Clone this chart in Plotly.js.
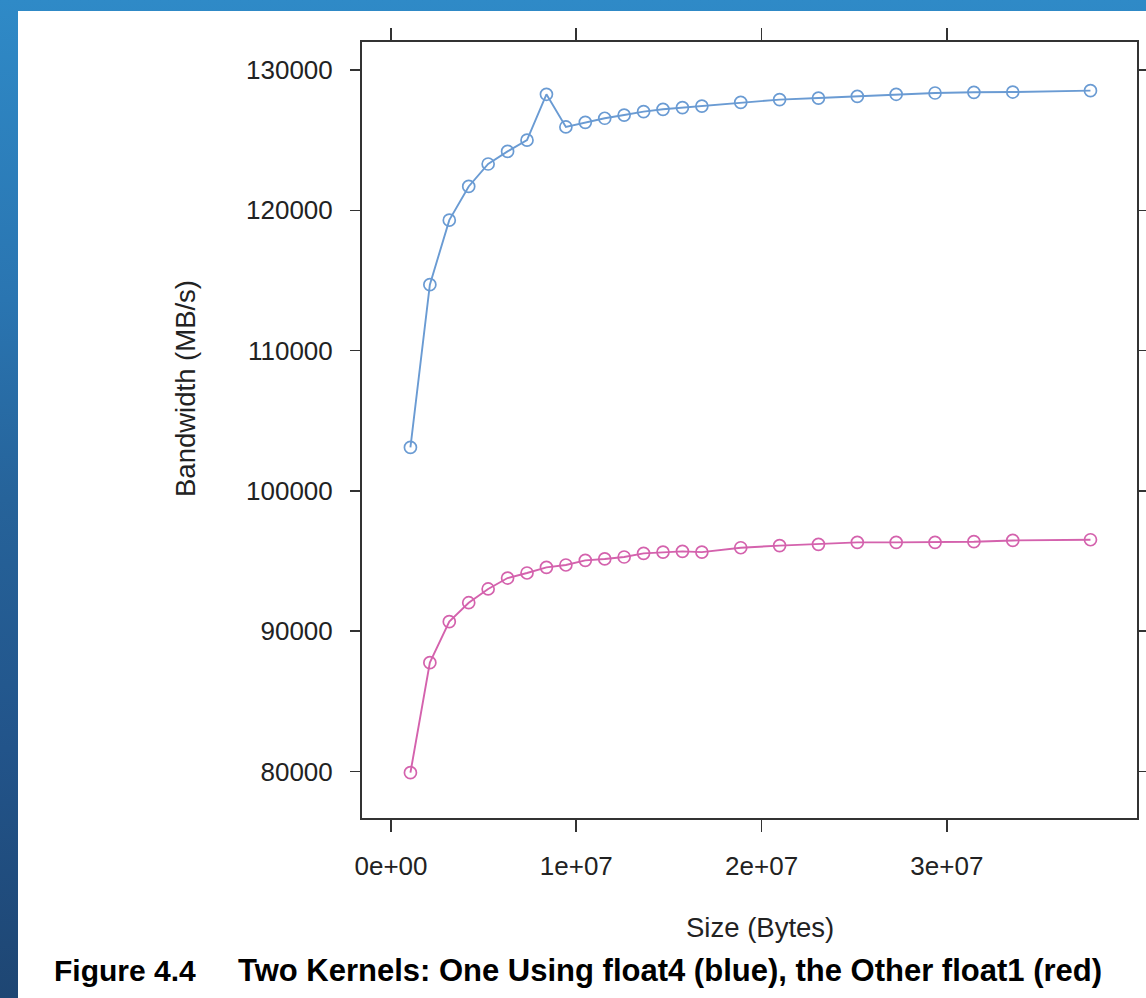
<!DOCTYPE html>
<html>
<head>
<meta charset="utf-8">
<script src="https://cdn.plot.ly/plotly-3.0.1.min.js"></script>
<style>
  html, body { margin: 0; padding: 0; width: 1146px; height: 998px; overflow: hidden; }
  body { background: linear-gradient(to bottom, #2f8ac7 0%, #2a75b1 30%, #26639a 50%, #22548a 75%, #1e4673 100%); position: relative; }
  #chart { position: absolute; left: 18px; top: 11px; width: 1128px; height: 987px; background: #ffffff; }
</style>
</head>
<body>
<div id="chart"></div>
<script>
// Sizes: multiples of 1 MiB
var sizeMultiples = [1,2,3,4,5,6,7,8,9,10,11,12,13,14,15,16,18,20,22,24,26,28,30,32,36];
var sizeBytes = sizeMultiples.map(function (k) { return k * 1048576; });

var float4Bandwidth = [103100,114700,119300,121700,123300,124200,125000,128270,125940,126270,
                       126560,126790,127030,127200,127320,127430,127690,127890,128000,128120,
                       128270,128360,128410,128430,128530];
var float1Bandwidth = [79920,87760,90680,92030,93010,93790,94150,94550,94720,95050,
                       95150,95290,95550,95640,95690,95640,95950,96100,96190,96330,
                       96330,96330,96380,96470,96520];

var yTickVals = [80000, 90000, 100000, 110000, 120000, 130000];
var yTickText = ['80000', '90000', '100000', '110000', '120000', '130000'];
var xTickVals = [0, 1e7, 2e7, 3e7];
var xTickText = ['0e+00', '1e+07', '2e+07', '3e+07'];

var xTitle = 'Size (Bytes)';
var yTitle = 'Bandwidth (MB/s)';
var captionLabel = 'Figure 4.4';
var captionText = 'Two Kernels: One Using float4 (blue), the Other float1 (red)';

var blue = '#6a9bd3';
var magenta = '#d462ad';

var traces = [
  {
    x: sizeBytes, y: float4Bandwidth, type: 'scatter', mode: 'lines+markers', name: 'float4',
    line: { color: blue, width: 1.9 },
    marker: { symbol: 'circle-open', size: 12, color: blue, line: { width: 1.7, color: blue } }
  },
  {
    x: sizeBytes, y: float1Bandwidth, type: 'scatter', mode: 'lines+markers', name: 'float1',
    line: { color: magenta, width: 1.9 },
    marker: { symbol: 'circle-open', size: 12, color: magenta, line: { width: 1.7, color: magenta } }
  }
];

var fam = 'Liberation Sans, Arial, sans-serif';
var tickFont = { family: fam, size: 26, color: '#222222' };
var titleFont = { family: fam, size: 27.5, color: '#222222' };

var layout = {
  width: 1128, height: 987,
  margin: { l: 344, r: 9, t: 31, b: 180, pad: 0 },
  paper_bgcolor: '#ffffff', plot_bgcolor: '#ffffff',
  showlegend: false,
  font: tickFont,
  xaxis: {
    range: [-1.565e6, 4.026e7],
    tickmode: 'array', tickvals: xTickVals, ticktext: xTickText,
    ticks: 'outside', ticklen: 12, tickwidth: 1.6, tickcolor: '#333333',
    showline: true, linecolor: '#333333', linewidth: 2, mirror: 'allticks',
    showgrid: false, zeroline: false,
    ticklabelstandoff: 12,
    tickfont: tickFont
  },
  yaxis: {
    range: [76686, 131996],
    tickmode: 'array', tickvals: yTickVals, ticktext: yTickText,
    ticks: 'outside', ticklen: 10, tickwidth: 1.6, tickcolor: '#333333',
    showline: true, linecolor: '#333333', linewidth: 2, mirror: 'allticks',
    showgrid: false, zeroline: false,
    ticklabelstandoff: 12,
    tickfont: tickFont
  },
  annotations: [
    { text: xTitle, xref: 'paper', yref: 'paper', x: (759.5 - 362) / 775, y: -(927 - 818) / 776,
      xanchor: 'center', yanchor: 'middle', showarrow: false, font: titleFont },
    { text: yTitle, xref: 'paper', yref: 'paper', x: -(362 - 185) / 775, y: (818 - 389) / 776,
      xanchor: 'center', yanchor: 'middle', textangle: -90, showarrow: false, font: titleFont },
    { text: '<b>' + captionLabel + '</b>', xref: 'paper', yref: 'paper', x: -(362 - 52) / 775, y: -(970 - 818) / 776,
      xanchor: 'left', yanchor: 'middle', showarrow: false,
      font: { family: fam, size: 30, color: '#000000' } },
    { text: '<b>' + captionText + '</b>', xref: 'paper', yref: 'paper', x: -(362 - 236) / 775, y: -(970 - 818) / 776,
      xanchor: 'left', yanchor: 'middle', showarrow: false,
      font: { family: fam, size: 31, color: '#000000' } }
  ]
};

Plotly.newPlot('chart', traces, layout, { displayModeBar: false, staticPlot: true });
</script>
</body>
</html>
